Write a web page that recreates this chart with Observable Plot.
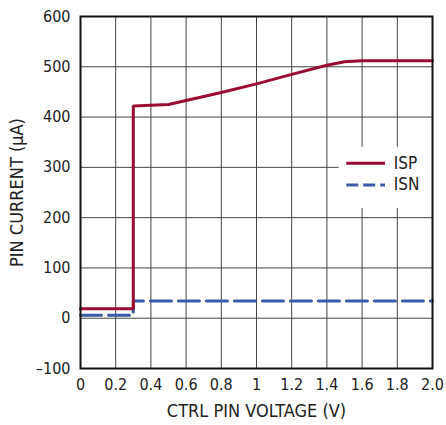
<!DOCTYPE html>
<html><head><meta charset="utf-8">
<script src="https://cdn.jsdelivr.net/npm/d3@7"></script>
<script src="https://cdn.jsdelivr.net/npm/@observablehq/plot@0.6"></script>
<style>
body{margin:0;background:#fff;}
#chart svg{display:block;}
</style>
</head><body><div id="chart"></div>
<script>
const ispX = [0, 0.3, 0.3, 0.5, 0.6, 0.8, 1.0, 1.2, 1.4, 1.5, 1.6, 2.0];
const ispY = [19, 19, 422, 425, 433, 449, 466, 485, 503, 510, 512, 512];
const isnX = [0, 0.3, 0.3, 2.0];
const isnY = [6, 6, 34, 34];
const xTicks = [0, 0.2, 0.4, 0.6, 0.8, 1, 1.2, 1.4, 1.6, 1.8, 2.0];
const xTickLabels = ["0", "0.2", "0.4", "0.6", "0.8", "1", "1.2", "1.4", "1.6", "1.8", "2.0"];
const yTicks = [-100, 0, 100, 200, 300, 400, 500, 600];
const yTickLabels = ["–100", "0", "100", "200", "300", "400", "500", "600"];
const seriesNames = ["ISP", "ISN"];
const colors = ["#9b0c34", "#3d5aa8"];

const isp = ispX.map((x, i) => ({x, y: ispY[i]}));
const isn = isnX.map((x, i) => ({x, y: isnY[i]}));
const font = "'Liberation Sans Narrow','DejaVu Sans Condensed',Arial,sans-serif";
const legendY = [308, 265];

const chart = Plot.plot({
  width: 446, height: 425,
  marginLeft: 80, marginRight: 14, marginTop: 16, marginBottom: 57,
  style: {fontFamily: font, fontSize: "16px", color: "#222", background: "#fff"},
  x: {domain: [0, 2], ticks: xTicks, tickFormat: (d, i) => xTickLabels[i], tickSize: 0, tickPadding: 10, label: "CTRL PIN VOLTAGE (V)", labelAnchor: "center", labelOffset: 48, labelArrow: "none"},
  y: {domain: [-100, 600], ticks: yTicks, tickFormat: (d, i) => yTickLabels[i], tickSize: 0, tickPadding: 10, label: "PIN CURRENT (µA)", labelAnchor: "center", labelOffset: 70, labelArrow: "none"},
  marks: [
    Plot.gridX(xTicks, {stroke: "#444", strokeOpacity: 1, strokeWidth: 1}),
    Plot.gridY(yTicks, {stroke: "#444", strokeOpacity: 1, strokeWidth: 1}),
    Plot.rect([0], {x1: 1.47, x2: 2.0, y1: 218, y2: 340, fill: "#fff"}),
    Plot.line(isn, {x: "x", y: "y", stroke: colors[1], strokeWidth: 3, strokeDasharray: "21,7"}),
    Plot.line(isp, {x: "x", y: "y", stroke: colors[0], strokeWidth: 3, strokeLinejoin: "miter"}),
    Plot.frame({stroke: "#111", strokeWidth: 2}),
    Plot.link([0], {x1: 1.51, x2: 1.73, y1: legendY[0], y2: legendY[0], stroke: colors[0], strokeWidth: 3}),
    Plot.link([1], {x1: 1.51, x2: 1.73, y1: legendY[1], y2: legendY[1], stroke: colors[1], strokeWidth: 3, strokeDasharray: "12,5"}),
    Plot.text(seriesNames, {x: 1.78, y: (d, i) => legendY[i], text: d => d, textAnchor: "start", fontSize: 17, fill: "#222"})
  ]
});
d3.select(chart).selectAll('g[aria-label="x-axis label"] text, g[aria-label="y-axis label"] text').attr("font-size", 18);
document.getElementById("chart").append(chart);
</script>
</body></html>
